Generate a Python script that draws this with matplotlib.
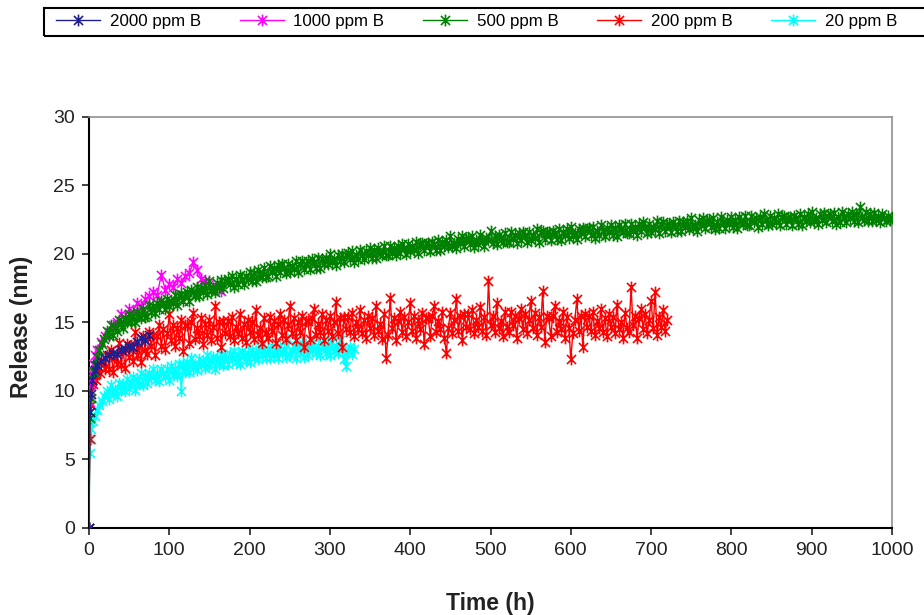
import matplotlib
matplotlib.use("Agg")
import matplotlib.pyplot as plt
import numpy as np
from matplotlib.path import Path
from matplotlib.patches import Rectangle

# Boron release from the glass samples, one series per solution concentration
labels = ["2000 ppm B", "1000 ppm B", "500 ppm B", "200 ppm B", "20 ppm B"]
colors = ["#1f1f8f", "#ff00ff", "#008000", "#ff0000", "#00ffff"]

t_2000 = [0, 1, 2, 4, 7, 10, 15, 20, 25, 30, 35, 40, 45, 50, 55, 60, 65, 70, 75]
r_2000 = [0, 8.5, 9.8, 10.8, 11.5, 11.9, 12.2, 12.4, 12.6, 12.8, 12.7, 13.0,
          13.1, 13.3, 13.2, 13.6, 13.9, 13.7, 14.1]

t_1000 = [0, 1, 2, 3, 5, 8, 10, 15, 20] + list(range(25, 166, 5))
r_1000 = [0, 9.2, 10.5, 11.3, 12.0, 12.6, 13.0, 13.6, 14.0,
          14.3, 14.8, 15.0, 15.6, 15.3, 16.0, 15.8, 16.4, 16.2, 16.7,
          16.9, 17.2, 17.0, 18.5, 17.4, 17.8, 17.6, 18.2, 17.9, 18.4,
          18.6, 19.4, 18.8, 18.2, 18.0, 17.8, 17.5, 17.6, 17.3]

# readings every 2.5 h after the first day
t_500 = [0, 1, 2, 4, 6, 8, 10, 13, 16, 19] + list(np.arange(22.5, 1000.01, 2.5))
r_500 = [0, 8.0, 9.5, 10.8, 11.4, 11.9, 12.5, 13.0, 13.4, 13.8,
         14.4, 14.0, 14.8, 14.1, 14.7, 14.4, 15.2, 14.9, 14.6, 15.3,
         15.0, 15.6, 15.0, 15.5, 15.0, 15.8, 15.5, 15.3, 16.0, 15.4,
         15.5, 16.3, 15.8, 16.2, 15.7, 16.4, 16.0, 16.6, 16.4, 16.0,
         16.7, 16.2, 16.6, 16.4, 17.0, 16.3, 16.9, 17.1, 16.6, 17.0,
         17.2, 16.6, 17.4, 17.2, 16.9, 17.6, 16.9, 17.5, 17.2, 17.7,
         17.1, 18.0, 17.3, 17.5, 17.2, 17.9, 17.6, 18.1, 17.5, 18.0,
         18.2, 17.8, 18.4, 17.6, 18.2, 17.8, 18.5, 18.2, 17.8, 18.4,
         18.2, 18.7, 18.0, 18.6, 18.0, 18.8, 18.5, 18.3, 19.0, 18.3,
         18.4, 19.1, 18.7, 19.0, 18.4, 19.2, 18.7, 19.3, 19.0, 18.6,
         19.3, 18.7, 19.1, 18.9, 19.5, 18.7, 19.3, 19.5, 18.9, 19.3,
         19.5, 18.9, 19.6, 19.4, 19.0, 19.7, 19.0, 19.6, 19.3, 19.7,
         19.3, 20.0, 19.4, 19.6, 19.2, 19.9, 19.5, 20.0, 19.4, 19.9,
         20.1, 19.6, 20.2, 19.4, 19.9, 19.6, 20.3, 19.9, 19.6, 20.2,
         19.9, 20.4, 19.7, 20.3, 19.7, 20.4, 20.1, 19.9, 20.6, 19.9,
         19.9, 20.6, 20.1, 20.4, 19.9, 20.6, 20.1, 20.7, 20.4, 20.0,
         20.7, 20.2, 20.6, 20.3, 20.9, 20.1, 20.7, 20.8, 20.3, 20.7,
         20.8, 20.2, 20.9, 20.7, 20.3, 21.0, 20.3, 20.9, 20.6, 21.0,
         20.5, 21.3, 20.6, 20.8, 20.4, 21.1, 20.8, 21.3, 20.6, 21.1,
         21.2, 20.7, 21.3, 20.5, 21.0, 20.7, 21.4, 21.0, 20.6, 21.2,
         21.0, 21.7, 20.8, 21.3, 20.7, 21.4, 21.1, 20.9, 21.5, 20.9,
         20.9, 21.6, 21.1, 21.4, 20.8, 21.5, 21.0, 21.6, 21.4, 20.9,
         21.6, 21.0, 21.4, 21.2, 21.8, 20.9, 21.6, 21.7, 21.1, 21.5,
         21.6, 21.0, 21.7, 21.5, 21.1, 21.8, 21.0, 21.6, 21.4, 21.8,
         21.2, 22.0, 21.3, 21.5, 21.1, 21.8, 21.5, 21.9, 21.3, 21.8,
         21.9, 21.4, 22.0, 21.2, 21.7, 21.4, 22.1, 21.7, 21.3, 21.9,
         21.6, 22.1, 21.4, 21.9, 21.3, 22.1, 21.8, 21.6, 22.2, 21.5,
         21.5, 22.2, 21.7, 22.0, 21.4, 22.2, 21.7, 22.3, 22.0, 21.5,
         22.2, 21.6, 22.0, 21.8, 22.4, 21.5, 22.2, 22.3, 21.7, 22.1,
         22.2, 21.6, 22.3, 22.1, 21.7, 22.4, 21.7, 22.3, 22.0, 22.4,
         21.8, 22.6, 21.9, 22.1, 21.7, 22.5, 22.1, 22.6, 21.9, 22.4,
         22.5, 22.0, 22.6, 21.8, 22.3, 21.9, 22.7, 22.3, 21.9, 22.5,
         22.2, 22.7, 22.0, 22.5, 21.9, 22.7, 22.4, 22.2, 22.8, 22.1,
         22.1, 22.8, 22.3, 22.6, 22.0, 22.7, 22.2, 22.9, 22.5, 22.1,
         22.8, 22.2, 22.6, 22.3, 22.9, 22.1, 22.7, 22.8, 22.2, 22.6,
         22.7, 22.1, 22.8, 22.6, 22.2, 22.9, 22.1, 22.7, 22.4, 22.9,
         22.3, 23.1, 22.4, 22.6, 22.2, 22.9, 22.5, 23.0, 22.3, 22.8,
         22.9, 22.4, 23.0, 22.2, 22.7, 22.3, 23.1, 22.7, 22.3, 22.9,
         22.6, 23.1, 22.4, 22.9, 22.3, 23.4, 22.7, 22.5, 23.1, 22.4,
         22.9, 22.4, 23.0, 22.5, 22.8, 22.3, 22.9, 22.6, 22.4, 22.8,
         22.5, 22.6]

t_200 = [0, 1, 2, 3, 5, 7, 9, 11, 14, 17, 20] + list(np.arange(22.5, 720.01, 2.5))
r_200 = [0, 6.5, 9.0, 10.0, 10.5, 11.2, 10.8, 11.8, 11.3, 12.2, 11.6,
         12.6, 11.6, 13.0, 11.4, 12.5, 12.0, 13.5, 11.9, 12.9, 11.7,
         13.4, 12.5, 13.3, 12.2, 14.3, 12.6, 13.2, 12.1, 14.0, 13.0,
         12.7, 14.3, 13.3, 14.1, 12.6, 14.0, 14.8, 13.3, 14.5, 13.1,
         14.2, 15.6, 13.7, 14.8, 13.3, 14.6, 13.9, 15.2, 12.9, 14.8,
         14.8, 13.5, 15.0, 15.7, 13.8, 14.6, 14.0, 15.3, 13.4, 14.9,
         14.1, 15.2, 13.7, 14.7, 16.2, 13.9, 15.0, 13.2, 15.1, 14.2,
         15.1, 14.0, 15.4, 13.7, 14.7, 14.2, 15.6, 13.9, 14.9, 13.6,
         15.2, 14.3, 15.0, 13.8, 15.9, 14.1, 14.6, 13.5, 15.3, 14.2,
         13.9, 15.4, 14.4, 15.1, 13.5, 14.9, 15.6, 14.1, 15.2, 13.8,
         14.8, 16.2, 14.2, 15.3, 13.7, 15.0, 14.3, 15.5, 13.2, 15.1,
         15.1, 13.8, 15.3, 16.0, 14.1, 14.9, 14.3, 15.6, 13.7, 15.2,
         14.4, 15.5, 14.0, 15.0, 16.5, 14.2, 15.3, 13.2, 15.4, 14.5,
         15.4, 14.3, 15.7, 14.0, 15.0, 14.5, 15.9, 14.2, 15.2, 13.9,
         15.5, 14.6, 15.3, 14.1, 16.2, 14.4, 14.9, 13.8, 15.6, 12.4,
         14.1, 16.8, 14.6, 15.3, 13.7, 15.1, 15.8, 14.3, 15.4, 14.0,
         15.0, 16.4, 14.4, 15.5, 13.9, 15.2, 14.5, 15.7, 13.4, 15.3,
         15.3, 14.0, 15.5, 16.2, 14.3, 15.1, 14.5, 15.8, 13.9, 12.8,
         14.6, 15.7, 14.2, 15.2, 16.7, 14.4, 15.5, 13.7, 15.6, 14.7,
         15.6, 14.5, 15.9, 14.2, 15.2, 14.7, 16.1, 14.4, 15.4, 14.1,
         18.0, 14.8, 15.5, 14.3, 16.4, 14.6, 15.1, 14.0, 15.8, 14.7,
         14.3, 15.8, 14.8, 15.5, 13.9, 15.3, 16.0, 14.5, 15.6, 14.2,
         15.2, 16.6, 14.6, 15.7, 14.1, 15.4, 14.7, 17.3, 13.6, 15.5,
         15.3, 14.0, 15.5, 16.2, 14.3, 15.1, 14.5, 15.8, 13.9, 15.4,
         14.6, 12.3, 14.2, 15.2, 16.7, 14.4, 15.5, 13.2, 15.6, 14.7,
         15.5, 14.4, 15.8, 14.1, 15.1, 14.6, 16.0, 14.3, 15.3, 14.0,
         15.6, 14.7, 15.4, 14.2, 16.3, 14.5, 15.0, 13.9, 15.7, 14.6,
         14.3, 17.6, 14.8, 15.5, 13.9, 15.3, 16.0, 14.5, 15.6, 14.2,
         15.2, 16.6, 14.6, 17.2, 14.1, 15.4, 14.7, 15.9, 14.4, 15.2]

t_20 = [0, 1, 2, 3, 5, 7, 10, 13, 16, 19] + list(np.arange(22.5, 330.01, 2.5))
r_20 = [0, 5.5, 6.5, 7.2, 7.8, 8.2, 8.6, 9.0, 9.3, 9.6,
        10.0, 9.4, 10.4, 9.8, 10.1, 9.6, 10.6, 10.1, 10.5, 10.0,
        10.9, 10.2, 10.6, 11.0, 10.1, 10.9, 10.5, 11.3, 10.4, 11.2,
        10.6, 11.3, 11.0, 11.6, 10.8, 11.3, 10.7, 11.6, 11.3, 11.0,
        11.6, 10.8, 11.8, 11.2, 11.6, 11.1, 12.0, 10.0, 12.0, 11.4,
        12.1, 11.4, 12.4, 11.7, 12.0, 11.5, 12.3, 11.9, 12.2, 11.7,
        12.6, 11.8, 12.2, 12.5, 11.6, 12.4, 12.0, 12.7, 11.9, 12.6,
        12.0, 12.7, 12.3, 12.9, 12.1, 12.6, 12.0, 12.9, 12.6, 12.2,
        12.8, 12.1, 13.0, 12.4, 12.8, 12.3, 13.2, 12.6, 13.0, 12.4,
        13.1, 12.4, 13.3, 12.6, 12.9, 12.4, 13.3, 12.8, 13.1, 12.5,
        13.8, 12.6, 13.0, 13.3, 12.4, 13.2, 12.8, 13.5, 12.5, 13.3,
        12.6, 13.3, 13.0, 13.6, 12.8, 13.3, 12.6, 13.5, 13.2, 12.8,
        13.4, 12.6, 13.6, 12.9, 13.3, 12.8, 13.7, 13.0, 12.3, 11.8,
        12.9, 13.2, 12.7, 13.1]

series = [(t_2000, r_2000), (t_1000, r_1000), (t_500, r_500),
          (t_200, r_200), (t_20, r_20)]
zorders = [6, 4, 5, 3, 2]

# Excel-style star marker: an x crossed by a vertical stroke
star = Path([(-1, -1), (1, 1), (-1, 1), (1, -1), (0, -1.3), (0, 1.3)],
            [Path.MOVETO, Path.LINETO, Path.MOVETO, Path.LINETO,
             Path.MOVETO, Path.LINETO])

plt.rcParams['font.family'] = ['Liberation Sans', 'DejaVu Sans']

fig = plt.figure(figsize=(9.24, 6.15), dpi=100)
ax = fig.add_axes([0.0963, 0.1415, 0.8691, 0.6683])

for (t, r), lab, c, z in zip(series, labels, colors, zorders):
    ax.plot(t, r, color=c, lw=1.0, marker=star, markersize=8.5,
            markeredgewidth=1.2, label=lab, zorder=z)

ax.set_xlim(0, 1000)
ax.set_ylim(0, 30)
ax.set_xticks(range(0, 1001, 100))
ax.set_yticks(range(0, 31, 5))
ax.tick_params(axis='both', labelsize=14, length=5, width=1.2,
               direction='out', pad=5, colors='#222222')
ax.set_xlabel('Time (h)', fontsize=16.5, fontweight='bold', color='#222222')
ax.set_ylabel('Release (nm)', fontsize=16.5, fontweight='bold', color='#222222')
ax.xaxis.set_label_coords(0.5, -0.155)
ax.yaxis.set_label_coords(-0.07, 0.49)

for side in ['left', 'bottom']:
    ax.spines[side].set_color('black')
    ax.spines[side].set_linewidth(1.5)
for side in ['top', 'right']:
    ax.spines[side].set_color('#909090')
    ax.spines[side].set_linewidth(1.2)

# legend strip across the top, its box running past the right edge
leg = fig.legend(loc='center left', bbox_to_anchor=(0.061, 0.9645), ncol=5,
                 fontsize=12.2, frameon=False, handlelength=2.6,
                 handletextpad=0.55, columnspacing=2.3, borderpad=0.0,
                 borderaxespad=0.0)
fig.patches.append(Rectangle((44 / 924, 1 - 36 / 615), 0.99, 28 / 615,
                             transform=fig.transFigure, fill=False,
                             edgecolor='black', linewidth=1.5))

fig.savefig('out.png', dpi=100)
